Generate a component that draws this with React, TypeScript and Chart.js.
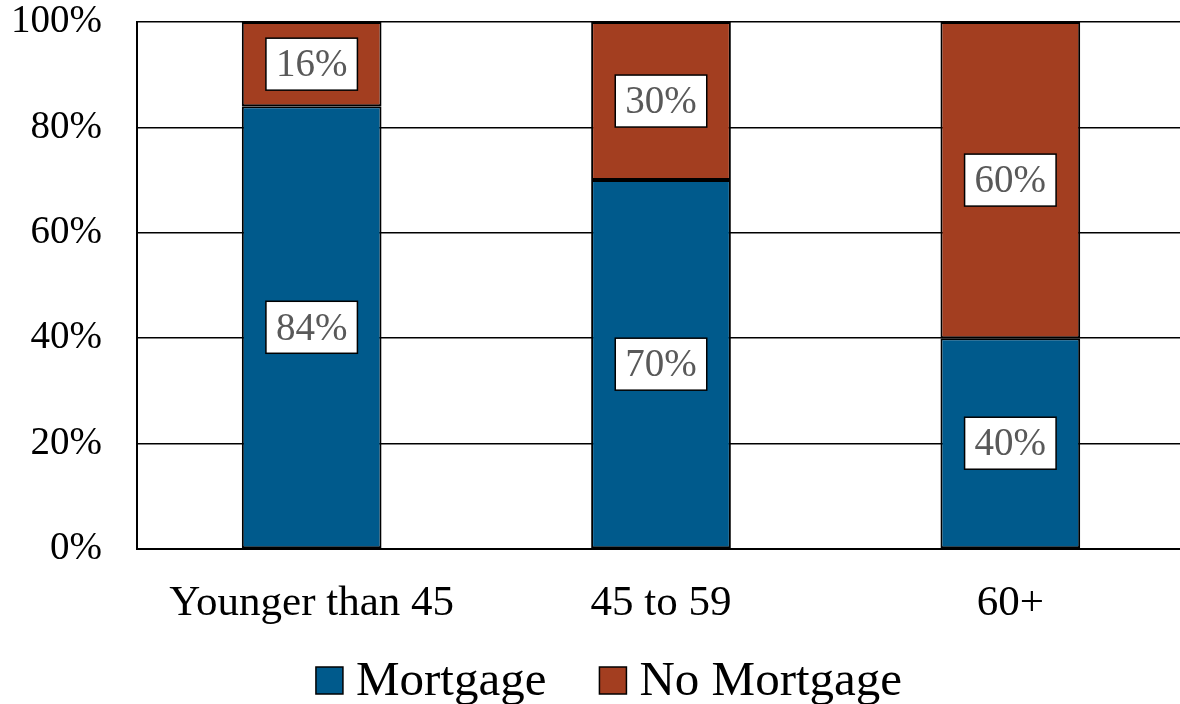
import React, { useEffect, useRef } from "react";
import { Chart, registerables } from "chart.js";

Chart.register(...registerables);

const categories = ["Younger than 45", "45 to 59", "60+"];
const mortgage = [84, 70, 40];
const noMortgage = [16, 30, 60];
const yTicks = [0, 20, 40, 60, 80, 100];
const seriesNames = ["Mortgage", "No Mortgage"];
const seriesColors = ["#005A8C", "#A33E20"];

const FONT = "'Liberation Serif', 'Times New Roman', serif";

const labelPlugin = {
  id: "boxLabels",
  afterDatasetsDraw(chart: any) {
    const ctx = chart.ctx;
    ctx.save();
    ctx.font = `39px ${FONT}`;
    chart.data.datasets.forEach((ds: any, di: number) => {
      const meta = chart.getDatasetMeta(di);
      meta.data.forEach((el: any, i: number) => {
        const v = ds.data[i];
        const text = `${v}%`;
        const cx = el.x;
        const cy = (el.y + el.base) / 2;
        const tw = ctx.measureText(text).width;
        const w = tw + 20;
        const h = 52;
        ctx.fillStyle = "#ffffff";
        ctx.fillRect(cx - w / 2, cy - h / 2, w, h);
        ctx.lineWidth = 1.5;
        ctx.strokeStyle = "#000000";
        ctx.strokeRect(cx - w / 2, cy - h / 2, w, h);
        ctx.fillStyle = "#595959";
        ctx.textAlign = "center";
        ctx.textBaseline = "middle";
        ctx.fillText(text, cx, cy + 2);
      });
    });
    ctx.restore();
  },
};

const legendPlugin = {
  id: "customLegend",
  afterDraw(chart: any) {
    const ctx = chart.ctx;
    ctx.save();
    ctx.font = `49px ${FONT}`;
    const box = 27;
    const gap = 13;
    const itemGap = 53;
    const widths = seriesNames.map((n) => ctx.measureText(n).width);
    const total = widths.reduce((a, w) => a + box + gap + w, 0) + itemGap * (seriesNames.length - 1);
    let x = 609 - total / 2;
    const baseline = 695;
    seriesNames.forEach((n, i) => {
      ctx.fillStyle = seriesColors[i];
      ctx.fillRect(x, baseline - 28, box, box);
      ctx.lineWidth = 1.5;
      ctx.strokeStyle = "#000";
      ctx.strokeRect(x, baseline - 28, box, box);
      x += box + gap;
      ctx.fillStyle = "#000";
      ctx.textAlign = "left";
      ctx.textBaseline = "alphabetic";
      ctx.fillText(n, x, baseline);
      x += widths[i] + itemGap;
    });
    ctx.restore();
  },
};

export default function App() {
  const ref = useRef<HTMLCanvasElement>(null);
  useEffect(() => {
    if (!ref.current) return;
    const chart = new Chart(ref.current, {
      type: "bar",
      data: {
        labels: categories,
        datasets: [
          {
            label: seriesNames[0],
            data: mortgage,
            backgroundColor: seriesColors[0],
            borderColor: "#000",
            borderWidth: 2,
            borderSkipped: false,
            barPercentage: 0.4,
            categoryPercentage: 1,
          },
          {
            label: seriesNames[1],
            data: noMortgage,
            backgroundColor: seriesColors[1],
            borderColor: "#000",
            borderWidth: 2,
            borderSkipped: false,
            barPercentage: 0.4,
            categoryPercentage: 1,
          },
        ],
      },
      options: {
        responsive: false,
        animation: false,
        layout: { padding: { top: 22, right: 2, bottom: 75, left: 0 } },
        plugins: { legend: { display: false }, tooltip: { enabled: false } },
        scales: {
          x: {
            stacked: true,
            grid: { display: false, drawTicks: false },
            border: { display: true, color: "#000", width: 2 },
            ticks: { color: "#000", font: { family: FONT, size: 43 }, padding: 29, maxRotation: 0 },
            afterFit: (s: any) => {
              s.height = 80;
              s.paddingLeft = 0;
              s.paddingRight = 0;
            },
          },
          y: {
            stacked: true,
            min: 0,
            max: 100,
            afterBuildTicks: (s: any) => {
              s.ticks = yTicks.map((v) => ({ value: v }));
            },
            grid: { color: "#000", lineWidth: 1.5, drawTicks: false },
            border: { display: true, color: "#000", width: 2 },
            ticks: {
              color: "#000",
              font: { family: FONT, size: 39 },
              padding: 35,
              callback: (v: any) => `${v}%`,
            },
            afterFit: (s: any) => {
              s.width = 137;
              s.paddingTop = 0;
              s.paddingBottom = 0;
            },
          },
        },
      },
      plugins: [labelPlugin, legendPlugin],
    });
    return () => chart.destroy();
  }, []);
  return (
    <div style={{ position: "fixed", top: 0, left: 0, width: 1180, height: 704, overflow: "hidden", background: "#fff" }}>
      <canvas ref={ref} width={1187} height={704} style={{ width: 1187, height: 704, display: "block" }} />
    </div>
  );
}
